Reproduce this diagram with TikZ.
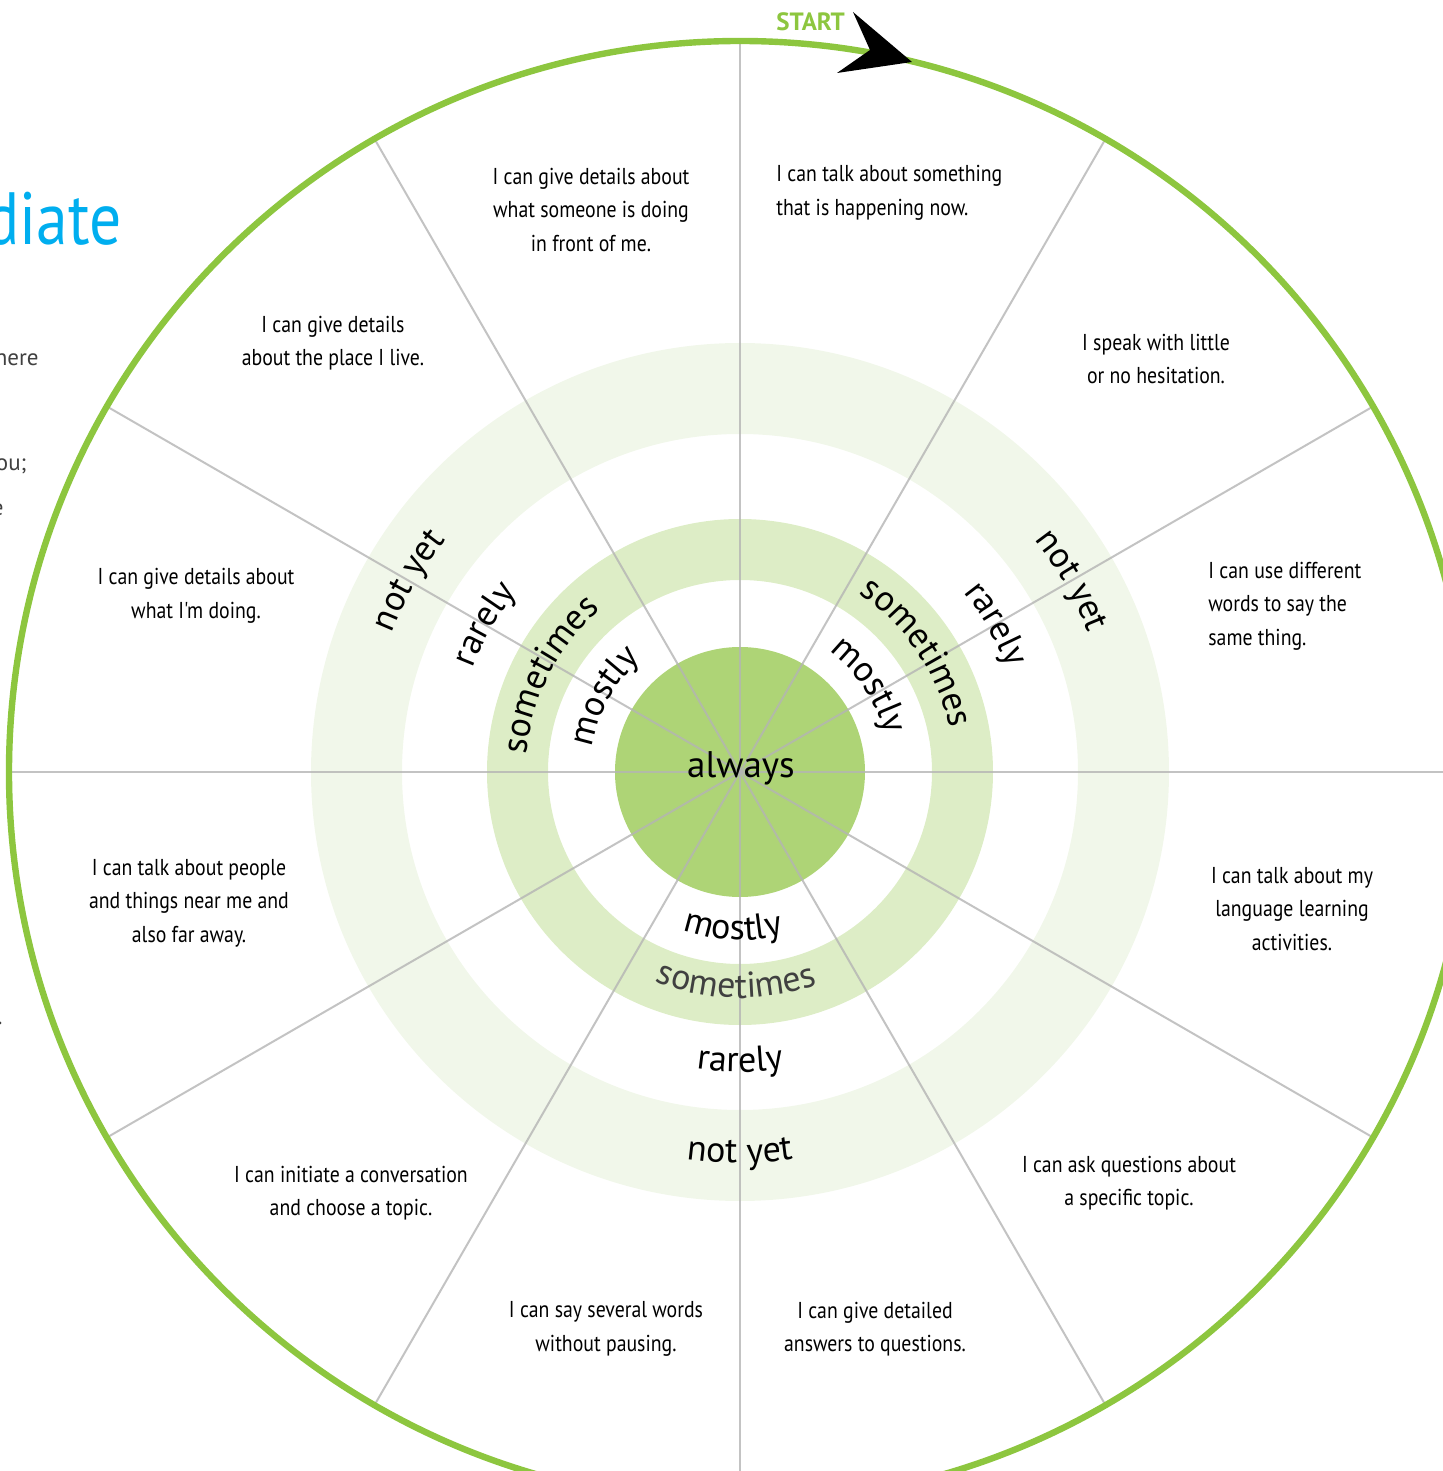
\documentclass[tikz,border=0pt]{standalone}
\usepackage{fontspec}
\newfontfamily\stmtfont[FakeStretch=0.86]{PT Sans}
\newfontfamily\ringfont{PT Sans}
\usetikzlibrary{decorations.text}
\definecolor{wheelgreen}{RGB}{141,198,63}
\definecolor{alwaysgreen}{RGB}{174,212,118}
\definecolor{bandgreen}{RGB}{221,237,198}
\definecolor{palegreen}{RGB}{241,247,234}
\definecolor{spokegray}{RGB}{180,180,180}
\definecolor{titleblue}{RGB}{0,174,239}

\begin{document}
\begin{tikzpicture}[x=0.5pt, y=0.5pt,
  statement/.style={font=\stmtfont\fontsize{11.5}{16.75}\selectfont, text=black, inner sep=0pt},
  ringtext/.style={decorate, decoration={text along path, text align=center,
    text={|\ringfont\fontsize{18}{18}\selectfont|#1}}},
  edgetext/.style={font=\ringfont\fontsize{11.5}{14}\selectfont, text=black!75, inner sep=0pt}]
  \useasboundingbox (-740,-699) rectangle (702,772);
  % bands of the wheel
  \fill[palegreen, even odd rule] (0,0) circle[radius=429] (0,0) circle[radius=338];
  \fill[bandgreen, even odd rule] (0,0) circle[radius=253] (0,0) circle[radius=192];
  \fill[alwaysgreen] (0,0) circle[radius=125];
  % spokes
  \foreach \a in {0,30,...,330}
    \draw[spokegray, line width=1pt, opacity=0.8] (0,0) -- (\a:728);
  % outer rim and start arrow
  \draw[wheelgreen, line width=3.2pt] (0,0) circle[radius=731];
  \fill[black] (172,710) -- (113,760) -- (130,722) -- (97,699) -- cycle;
  \node[font=\ringfont\bfseries\fontsize{12.5}{13}\selectfont, text=wheelgreen, anchor=east] (start) at (112,750) {START};

  % centre
  \node[font=\ringfont\fontsize{18.5}{18.5}\selectfont] (always) at (1,4) {always};
  % upper left labels
  \path[ringtext=not yet] (180:375) arc[start angle=180, end angle=120, radius=375];
  \path[ringtext=rarely] (180:287) arc[start angle=180, end angle=120, radius=287];
  \path[ringtext=sometimes] (193:214) arc[start angle=193, end angle=113, radius=214];
  \path[ringtext=mostly] (191:150) arc[start angle=191, end angle=111, radius=150];
  % right labels
  \path[ringtext=not yet] (60:375) arc[start angle=60, end angle=0, radius=375];
  \path[ringtext=rarely] (60:287) arc[start angle=60, end angle=0, radius=287];
  \path[ringtext=sometimes] (74:214) arc[start angle=74, end angle=-6, radius=214];
  \path[ringtext=mostly] (74:150) arc[start angle=74, end angle=-6, radius=150];
  % bottom labels
  \path[ringtext=mostly] (227.5:168) arc[start angle=227.5, end angle=307.5, radius=168];
  \path[ringtext=sometimes, decoration={text color=black!75}] (229:226) arc[start angle=229, end angle=309, radius=226];
  \path[ringtext=rarely] (240:300) arc[start angle=240, end angle=300, radius=300];
  \path[ringtext=not yet] (240:391) arc[start angle=240, end angle=300, radius=391];

  % statements, clockwise from the top
  \node[statement, align=left, anchor=west] (s1) at (36,579) {I can talk about something\\that is happening now.};
  \node[statement, align=center] (s2) at (416,413) {I speak with little\\or no hesitation.};
  \node[statement, align=left, anchor=west] (s3) at (468,166) {I can use different\\words to say the\\same thing.};
  \node[statement, align=center] (s4) at (552,-137) {I can talk about my\\language learning\\activities.};
  \node[statement, align=center] (s5) at (389,-411) {I can ask questions about\\a specific topic.};
  \node[statement, align=center] (s6) at (135,-557) {I can give detailed\\answers to questions.};
  \node[statement, align=center] (s7) at (-134,-557) {I can say several words\\without pausing.};
  \node[statement, align=center] (s8) at (-389,-421) {I can initiate a conversation\\and choose a topic.};
  \node[statement, align=center] (s9) at (-551,-131) {I can talk about people\\and things near me and\\also far away.};
  \node[statement, align=center] (s10) at (-544,176) {I can give details about\\what I'm doing.};
  \node[statement, align=center] (s11) at (-407,429) {I can give details\\about the place I live.};
  \node[statement, align=center] (s12) at (-149,562) {I can give details about\\what someone is doing\\in front of me.};

  % cut off text at the left edge
  \node[font=\stmtfont\fontsize{37}{37}\selectfont, text=titleblue, anchor=base east, inner sep=0pt] (title) at (-618,527) {diate};
  \node[edgetext, anchor=base east] (frag1) at (-701,406) {here};
  \node[edgetext, anchor=base east] (frag2) at (-713,301) {ou;};
  \node[edgetext, anchor=base east] (frag3) at (-736,256) {e};
  \node[edgetext, anchor=base east] (frag4) at (-737,-252) {.};
\end{tikzpicture}
\end{document}
